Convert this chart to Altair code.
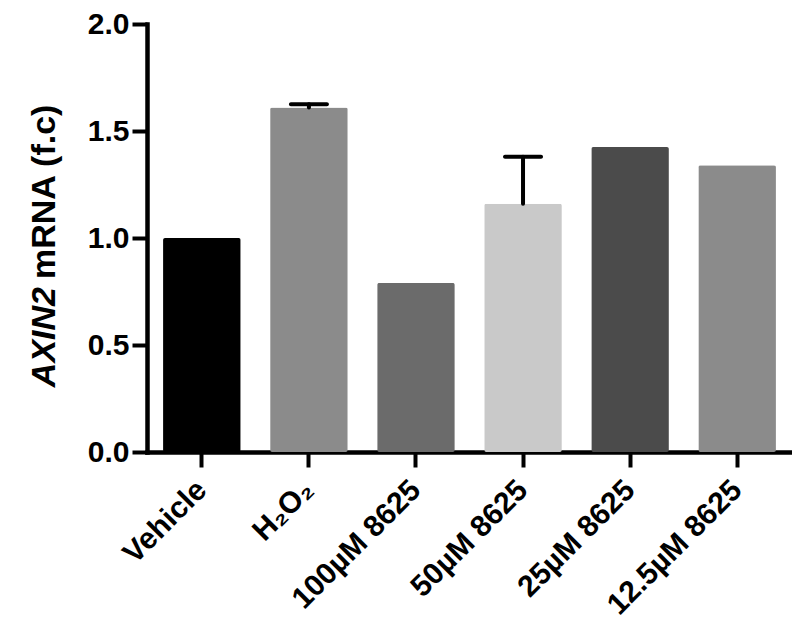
import altair as alt
import pandas as pd

categories = ["Vehicle", "H₂O₂", "100µM 8625", "50µM 8625", "25µM 8625", "12.5µM 8625"]
values = [1.00, 1.61, 0.79, 1.16, 1.425, 1.34]
err_upper = [None, 1.625, None, 1.38, None, None]
colors = ["#000000", "#8b8b8b", "#6b6b6b", "#c9c9c9", "#4b4b4b", "#8b8b8b"]
y_ticks = [0.0, 0.5, 1.0, 1.5, 2.0]

df = pd.DataFrame({"cat": categories, "val": values, "hi": err_upper})
df_err = df.dropna(subset=["hi"])

FONT = "Liberation Sans"

x_enc = alt.X("cat:N", sort=categories,
              scale=alt.Scale(paddingInner=0.275, paddingOuter=0.15),
              axis=alt.Axis(title=None, labelAngle=-45, labelAlign="right",
                            labelBaseline="middle", labelFontSize=30,
                            labelFont=FONT, labelFontWeight="bold",
                            labelColor="black", labelPadding=18,
                            tickSize=15, tickWidth=4, tickColor="black",
                            domainWidth=4.5, domainColor="black",
                            domainCap="square"))
y_scale = alt.Scale(domain=[0, 2], nice=False)

bars = alt.Chart(df).mark_bar(cornerRadius=2).encode(
    x=x_enc,
    y=alt.Y("val:Q", scale=y_scale,
            axis=alt.Axis(title=None, values=y_ticks, format=".1f",
                          labelFontSize=30, labelFont=FONT,
                          labelFontWeight="bold", labelColor="black",
                          labelPadding=3, tickSize=15, tickWidth=4,
                          tickColor="black", domainWidth=4.5,
                          domainColor="black", domainCap="square",
                          grid=False)),
    color=alt.Color("cat:N", scale=alt.Scale(domain=categories, range=colors),
                    legend=None),
)

rules = alt.Chart(df_err).mark_rule(strokeWidth=4, color="black",
                                    strokeCap="round").encode(
    x=alt.X("cat:N", sort=categories),
    y=alt.Y("val:Q", scale=y_scale),
    y2="hi:Q",
)

caps = alt.Chart(df_err).mark_tick(thickness=4, size=40, color="black",
                                   cornerRadius=2, opacity=1).encode(
    x=alt.X("cat:N", sort=categories),
    y=alt.Y("hi:Q", scale=y_scale),
)

title1 = alt.Chart(pd.DataFrame({"t": ["AXIN2"]})).mark_text(
    angle=270, align="right", baseline="alphabetic", font=FONT,
    fontSize=34, fontWeight="bold", fontStyle="italic", color="black"
).encode(text="t:N", x=alt.value(-92), y=alt.value(263))

title2 = alt.Chart(pd.DataFrame({"t": ["mRNA (f.c)"]})).mark_text(
    angle=270, align="left", baseline="alphabetic", font=FONT,
    fontSize=34, fontWeight="bold", color="black"
).encode(text="t:N", x=alt.value(-92), y=alt.value(255))

chart = alt.layer(bars, rules, caps, title1, title2).properties(
    width=645, height=428,
    autosize=alt.AutoSizeParams(type="none"),
    padding={"left": 139, "top": 16, "right": 0, "bottom": 172},
).configure_view(stroke=None)

chart.save("out.html", embed_options={"renderer": "svg", "actions": False})
